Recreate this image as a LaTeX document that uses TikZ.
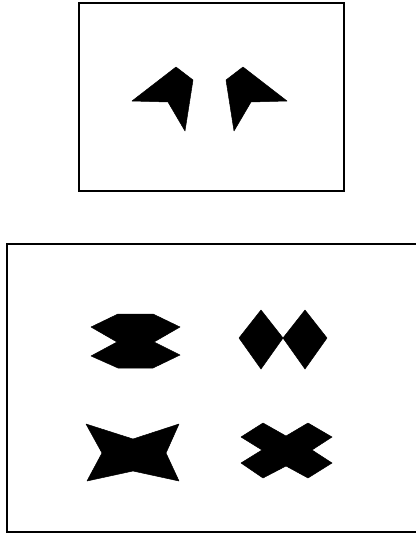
\documentclass[tikz,border=0pt]{standalone}
\begin{document}
\begin{tikzpicture}[x=1pt,y=-1pt,
  frame/.style={draw=black,line width=1.6pt},
  blob/.style={fill=black,draw=black,line width=0.5pt,line join=round}]
\useasboundingbox (0,0) rectangle (415,535);
% top frame
\draw[frame] (79,3) rectangle (344,191);
% bottom frame (right side beyond picture)
\draw[frame] (416,244) -- (7,244) -- (7,532) -- (416,532);
% top pair of shapes
\fill[blob] (132,101) -- (176,67) -- (193,80) -- (185,131) -- (168,102) -- cycle;
\fill[blob] (287,101) -- (243,67) -- (226,80) -- (234,131) -- (251,102) -- cycle;
% shape 1: double hexagon
\fill[blob] (118,314) -- (153,314) -- (180,327) -- (154,342) -- (180,355) -- (153,368)
  -- (118,368) -- (91,356) -- (117,342) -- (91,327) -- cycle;
% shape 2: two diamonds
\fill[blob] (239,338) -- (261,310) -- (283,338) -- (261,369) -- cycle;
\fill[blob] (283,338) -- (305,310) -- (327,338) -- (305,369) -- cycle;
% shape 3: four-point star
\fill[blob] (86,424) -- (133,439) -- (179,424) -- (166,453) -- (179,481) -- (133,471)
  -- (87,481) -- (102,453) -- cycle;
% shape 4: cross
\fill[blob] (263,423) -- (286,436) -- (308,423) -- (332,437) -- (312,450) -- (332,463)
  -- (308,478) -- (286,466) -- (263,478) -- (241,463) -- (262,450) -- (241,437) -- cycle;
\end{tikzpicture}
\end{document}
